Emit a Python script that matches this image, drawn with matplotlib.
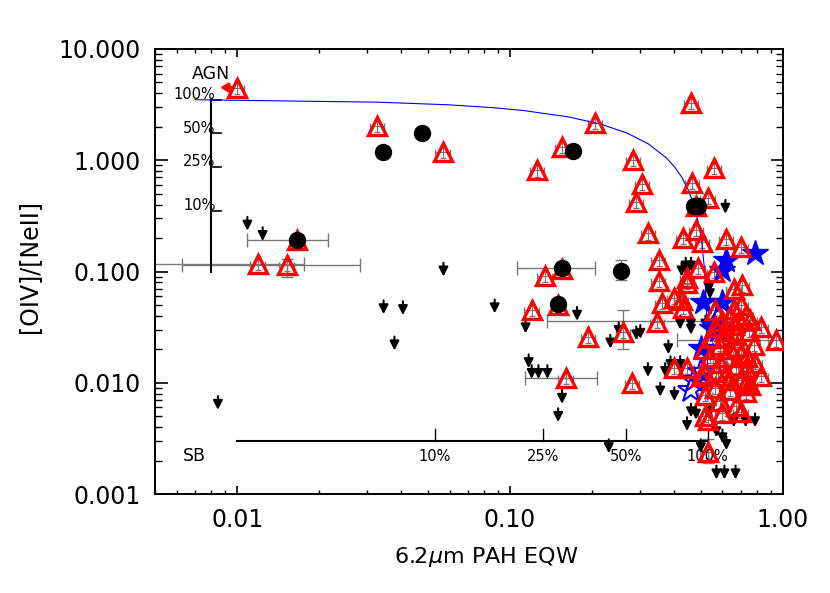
import matplotlib
matplotlib.use("Agg")
import matplotlib.pyplot as plt
from matplotlib.ticker import FixedLocator, FixedFormatter, LogLocator, NullFormatter

plt.rcParams['font.family'] = ['DejaVu Sans']

# ---------------- data ----------------
# red open triangles: (6.2um PAH EQW, [OIV]/[NeII])
tri_x = [0.0100, 0.0326, 0.0566, 0.0119, 0.0152, 0.0166, 0.462, 0.205, 0.155, 0.126,
         0.282, 0.305, 0.29, 0.56, 0.465, 0.53, 0.48, 0.32, 0.43, 0.48,
         0.505, 0.62, 0.70, 0.35, 0.49, 0.134, 0.155, 0.35, 0.445, 0.56,
         0.71, 0.66, 0.12, 0.15, 0.40, 0.425, 0.36, 0.43, 0.345, 0.193,
         0.26, 0.445, 0.16, 0.28, 0.40, 0.445, 0.73, 0.53, 0.60, 0.53,
         0.94,
         0.64, 0.69, 0.73, 0.565, 0.615, 0.67, 0.75, 0.78, 0.59, 0.64,
         0.70, 0.54, 0.59, 0.67, 0.73, 0.79, 0.52, 0.615, 0.70, 0.76,
         0.565, 0.64, 0.73, 0.52, 0.59, 0.67, 0.83, 0.50, 0.515, 0.565,
         0.70, 0.66, 0.83, 0.70, 0.52, 0.61, 0.68, 0.74, 0.62, 0.55,
         0.76, 0.60, 0.66, 0.57, 0.64]
tri_y = [4.5, 2.05, 1.19, 0.117, 0.114, 0.19, 3.3, 2.16, 1.32, 0.81,
         1.0, 0.61, 0.42, 0.85, 0.63, 0.46, 0.39, 0.22, 0.20, 0.235,
         0.185, 0.195, 0.165, 0.127, 0.107, 0.092, 0.105, 0.082, 0.087, 0.10,
         0.075, 0.07, 0.045, 0.05, 0.058, 0.055, 0.052, 0.047, 0.035, 0.026,
         0.0285, 0.079, 0.011, 0.010, 0.0135, 0.0135, 0.010, 0.0046, 0.0053, 0.0024,
         0.024,
         0.039, 0.0367, 0.041, 0.032, 0.029, 0.027, 0.029, 0.022, 0.022, 0.020,
         0.018, 0.017, 0.015, 0.014, 0.0135, 0.015, 0.012, 0.0115, 0.0105, 0.0095,
         0.0090, 0.0086, 0.0082, 0.0078, 0.0068, 0.0062, 0.0115, 0.0115, 0.020, 0.045,
         0.050, 0.046, 0.032, 0.0055, 0.0050, 0.025, 0.021, 0.017, 0.017, 0.025,
         0.037, 0.036, 0.033, 0.0125, 0.0105]
tri_rel_err = 0.12

# black filled circles
circ_x = [0.0166, 0.0343, 0.0476, 0.1705, 0.155, 0.256, 0.15, 0.47, 0.49]
circ_y = [0.192, 1.19, 1.76, 1.20, 0.1075, 0.102, 0.051, 0.39, 0.39]

# blue stars (filled / open)
star_x = [0.79, 0.62, 0.60, 0.51, 0.60, 0.56, 0.50, 0.58, 0.55]
star_y = [0.147, 0.127, 0.103, 0.053, 0.053, 0.033, 0.0205, 0.030, 0.031]
ostar_x = [0.50, 0.46, 0.47]
ostar_y = [0.0125, 0.0086, 0.0105]

# upper limits on [OIV]/[NeII] (down arrows)
ul_x = [0.0109, 0.0124, 0.057, 0.0344, 0.0405, 0.0377, 0.0878, 0.0085,
        0.176, 0.114, 0.117, 0.12, 0.127, 0.137, 0.155, 0.15, 0.233, 0.25,
        0.29, 0.30, 0.32, 0.355, 0.37, 0.38, 0.387, 0.42, 0.40, 0.425,
        0.445, 0.42, 0.46, 0.445, 0.46, 0.48, 0.50, 0.535, 0.57, 0.61,
        0.67, 0.60, 0.62, 0.66, 0.73, 0.79, 0.23, 0.57, 0.54, 0.52,
        0.615, 0.44, 0.46, 0.54, 0.46]
ul_y = [0.31, 0.25, 0.12, 0.055, 0.054, 0.026, 0.056, 0.0076,
        0.048, 0.037, 0.018, 0.0144, 0.0144, 0.0144, 0.0086, 0.0059, 0.027, 0.035,
        0.032, 0.033, 0.015, 0.010, 0.015, 0.024, 0.0173, 0.0173, 0.0091, 0.12,
        0.12, 0.040, 0.040, 0.0049, 0.0065, 0.0062, 0.0031, 0.084, 0.0018, 0.0018,
        0.0018, 0.0038, 0.0033, 0.0053, 0.0053, 0.0053, 0.0031, 0.0043, 0.0065, 0.040,
        0.44, 0.133, 0.133, 0.075, 0.036]

# upper limit on EQW (red left arrow)
ul_eqw_x = [0.0097]
ul_eqw_y = [4.5]

# large horizontal error bars: centre, low, high
hx = [0.0119, 0.0152, 0.0166, 0.155, 0.16, 0.345, 0.94]
hy = [0.117, 0.114, 0.192, 0.1075, 0.011, 0.036, 0.024]
hx_lo = [0.004, 0.00628, 0.0109, 0.106, 0.113, 0.137, 0.41]
hx_hi = [0.0176, 0.0282, 0.0216, 0.205, 0.209, 0.52, 1.3]

# large vertical error bars: centre, low, high
vx = [0.256, 0.26, 0.53, 0.0152, 0.0166]
vy = [0.102, 0.0285, 0.0024, 0.114, 0.192]
vy_lo = [0.084, 0.020, 0.0019, 0.089, 0.17]
vy_hi = [0.127, 0.045, 0.0031, 0.13, 0.215]

# AGN / starburst mixing line
mix_x = [0.007, 0.0332, 0.0593, 0.0855, 0.1116, 0.1639, 0.2162, 0.2685, 0.3208,
         0.3731, 0.3993, 0.4254, 0.4516, 0.4777, 0.4934, 0.5039, 0.5143, 0.5195,
         0.5248, 0.5274, 0.5290, 0.53]
mix_y = [3.5, 3.325, 3.151, 2.976, 2.801, 2.452, 2.103, 1.754, 1.404,
         1.055, 0.880, 0.706, 0.531, 0.356, 0.2515, 0.182, 0.112, 0.0769,
         0.0420, 0.0245, 0.0140, 0.007]

# AGN fraction scale (vertical) and SB fraction scale (horizontal)
agn_scale_x = 0.008
agn_ratio_100 = 3.5
agn_scale_bottom = 0.1
agn_frac = [1.0, 0.5, 0.25, 0.1]
agn_labels = ['100%', '50%', '25%', '10%']

sb_scale_y = 0.003
sb_eqw_100 = 0.53
sb_scale_left = 0.01
sb_frac = [0.1, 0.25, 0.5, 1.0]
sb_labels = ['10%', '25%', '50%', '100%']

x_ticks = [0.01, 0.1, 1.0]
x_ticklabels = ['0.01', '0.10', '1.00']
y_ticks = [0.001, 0.01, 0.1, 1.0, 10.0]
y_ticklabels = ['0.001', '0.010', '0.100', '1.000', '10.000']

# ---------------- figure ----------------
fig = plt.figure(figsize=(8.3, 5.93), dpi=100)
ax = fig.add_axes([155/830, 1-494/593, 628/830, 445/593])
ax.set_xscale('log')
ax.set_yscale('log')
ax.set_xlim(0.005, 1.0)
ax.set_ylim(0.001, 10.0)

grey = '#777777'
# small error bars inside triangles
ax.errorbar(tri_x, tri_y, yerr=[y * tri_rel_err for y in tri_y],
            xerr=[x * tri_rel_err * 0.5 for x in tri_x],
            fmt='none', ecolor=grey, elinewidth=0.8, capsize=2, zorder=2)
# big horizontal bars
ax.errorbar(hx, hy, xerr=[[c - l for c, l in zip(hx, hx_lo)], [h - c for c, h in zip(hx, hx_hi)]],
            fmt='none', ecolor=grey, elinewidth=1.0, capsize=5, zorder=2)
ax.errorbar(vx, vy, yerr=[[c - l for c, l in zip(vy, vy_lo)], [h - c for c, h in zip(vy, vy_hi)]],
            fmt='none', ecolor=grey, elinewidth=1.0, capsize=4, zorder=2)

# upper-limit arrows
for x, y in zip(ul_x, ul_y):
    ax.annotate('', xy=(x, y / 1.33), xytext=(x, y),
                arrowprops=dict(arrowstyle='-|>,head_length=0.55,head_width=0.28',
                                color='k', lw=1.5, shrinkA=0, shrinkB=0, mutation_scale=10),
                zorder=3)
for x, y in zip(ul_eqw_x, ul_eqw_y):
    ax.annotate('', xy=(x / 1.12, y), xytext=(x, y),
                arrowprops=dict(arrowstyle='-|>,head_length=0.5,head_width=0.3',
                                color='red', lw=2, shrinkA=0, shrinkB=0, mutation_scale=9),
                zorder=3)

# mixing line
ax.plot(mix_x, mix_y, color='blue', lw=0.8, zorder=4)

# stars
ax.plot(star_x, star_y, ls='none', marker='*', ms=19, mfc='blue', mec='blue', zorder=4)
ax.plot(ostar_x, ostar_y, ls='none', marker='*', ms=19, mfc='none', mec='blue', mew=1.5, zorder=4)
# triangles
ax.plot(tri_x, tri_y, ls='none', marker='^', ms=13.5, mfc='none', mec='red', mew=2.4, zorder=5)
# circles
ax.plot(circ_x, circ_y, ls='none', marker='o', ms=11.5, mfc='black', mec='black', zorder=6)

# AGN scale
ax.plot([agn_scale_x, agn_scale_x], [agn_scale_bottom, agn_ratio_100], color='k', lw=1.5, zorder=3)
for f, lab in zip(agn_frac, agn_labels):
    yv = f * agn_ratio_100
    ax.plot([agn_scale_x, agn_scale_x * 1.09], [yv, yv], color='k', lw=1.2, zorder=3)
    ax.text(agn_scale_x * 1.04, yv * 1.11, lab, ha='right', va='center', fontsize=10.5, zorder=3)
ax.text(agn_scale_x, agn_ratio_100 * 1.7, 'AGN', ha='center', va='center', fontsize=12.5)

# SB scale
ax.plot([sb_scale_left, sb_eqw_100], [sb_scale_y, sb_scale_y], color='k', lw=1.5, zorder=3)
for f, lab in zip(sb_frac, sb_labels):
    xv = f * sb_eqw_100
    ax.plot([xv, xv], [sb_scale_y, sb_scale_y * 1.28], color='k', lw=1.0, zorder=3)
    ax.text(xv, sb_scale_y * 0.73, lab, ha='center', va='center', fontsize=10.5, zorder=3)
ax.text(0.00695, sb_scale_y * 0.73, 'SB', ha='center', va='center', fontsize=12.5)

# axes styling
ax.xaxis.set_major_locator(FixedLocator(x_ticks))
ax.xaxis.set_major_formatter(FixedFormatter(x_ticklabels))
ax.yaxis.set_major_locator(FixedLocator(y_ticks))
ax.yaxis.set_major_formatter(FixedFormatter(y_ticklabels))
ax.xaxis.set_minor_locator(LogLocator(base=10, subs=[2, 3, 4, 5, 6, 7, 8, 9], numticks=20))
ax.yaxis.set_minor_locator(LogLocator(base=10, subs=[2, 3, 4, 5, 6, 7, 8, 9], numticks=20))
ax.xaxis.set_minor_formatter(NullFormatter())
ax.yaxis.set_minor_formatter(NullFormatter())
ax.tick_params(axis='both', which='both', direction='in', top=True, right=True, colors='k')
ax.tick_params(axis='x', which='major', length=6, width=1.2, labelsize=17, pad=10)
ax.tick_params(axis='x', which='minor', length=3, width=1.0)
ax.tick_params(axis='y', which='major', length=9, width=1.2, labelsize=17, pad=10)
ax.tick_params(axis='y', which='minor', length=5, width=1.0)
for s in ax.spines.values():
    s.set_linewidth(1.4)

ax.set_xlabel(r'6.2$\mu$m PAH EQW', fontsize=16, va='center')
ax.xaxis.set_label_coords(0.527, -0.142)
ax.set_ylabel('[OIV]/[NeII]', fontsize=17, va='center')
ax.yaxis.set_label_coords(-0.20, 0.512)

fig.savefig('out.png', dpi=100)
